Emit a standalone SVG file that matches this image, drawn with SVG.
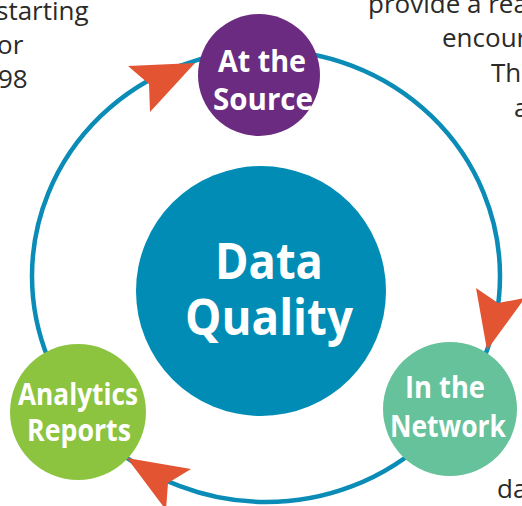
<svg xmlns="http://www.w3.org/2000/svg" width="522" height="506" viewBox="0 0 522 506">
<style>
.body{font-family:"Open Sans","Noto Sans",sans-serif;font-size:26px;fill:#2b2a29}
.lbl{font-family:"Open Sans","Noto Sans",sans-serif;font-weight:bold;fill:#ffffff;text-anchor:middle}
.arrow{fill:#e35433}
</style>
<rect width="522" height="506" fill="#ffffff"/>
<g id="page-text">
<text class="body" x="-4" y="20">starting</text>
<text class="body" x="-3" y="54">or</text>
<text class="body" x="-2" y="88">98</text>
<text class="body" x="368" y="13">provide a rea</text>
<text class="body" x="442" y="47">encour</text>
<text class="body" x="491" y="82">Thi</text>
<text class="body" x="514" y="117">a</text>
<text class="body" x="497" y="498">da</text>
</g>
<g id="connectors">
<ellipse cx="266" cy="276" rx="234" ry="226" fill="none" stroke="#0a8cb6" stroke-width="4.5"/>
<polygon class="arrow" points="195,63 128,66 149,84 150,112"/>
<polygon class="arrow" points="487,350 476,288 498,303 525,298"/>
<polygon class="arrow" points="127,458 191,469 168,483 166,510"/>
</g>
<g id="data-quality">
<circle cx="261" cy="291" r="125" fill="#008cb4"/>
<text class="lbl" x="269" y="279" font-size="50" textLength="108" lengthAdjust="spacingAndGlyphs">Data</text>
<text class="lbl" x="269" y="335" font-size="50" textLength="168" lengthAdjust="spacingAndGlyphs">Quality</text>
</g>
<g id="at-the-source">
<circle cx="259" cy="75" r="61" fill="#6a2b80"/>
<text class="lbl" x="262" y="72" font-size="31" textLength="88" lengthAdjust="spacingAndGlyphs">At the</text>
<text class="lbl" x="263" y="110" font-size="31" textLength="100" lengthAdjust="spacingAndGlyphs">Source</text>
</g>
<g id="in-the-network">
<circle cx="450" cy="409" r="67" fill="#66c29b"/>
<text class="lbl" x="445" y="398" font-size="30" textLength="80" lengthAdjust="spacingAndGlyphs">In the</text>
<text class="lbl" x="448" y="437" font-size="30" textLength="116" lengthAdjust="spacingAndGlyphs">Network</text>
</g>
<g id="analytics-reports">
<circle cx="78" cy="412" r="68" fill="#8cc43f"/>
<text class="lbl" x="78" y="405" font-size="31" textLength="120" lengthAdjust="spacingAndGlyphs">Analytics</text>
<text class="lbl" x="79" y="441" font-size="31" textLength="104" lengthAdjust="spacingAndGlyphs">Reports</text>
</g>
</svg>
